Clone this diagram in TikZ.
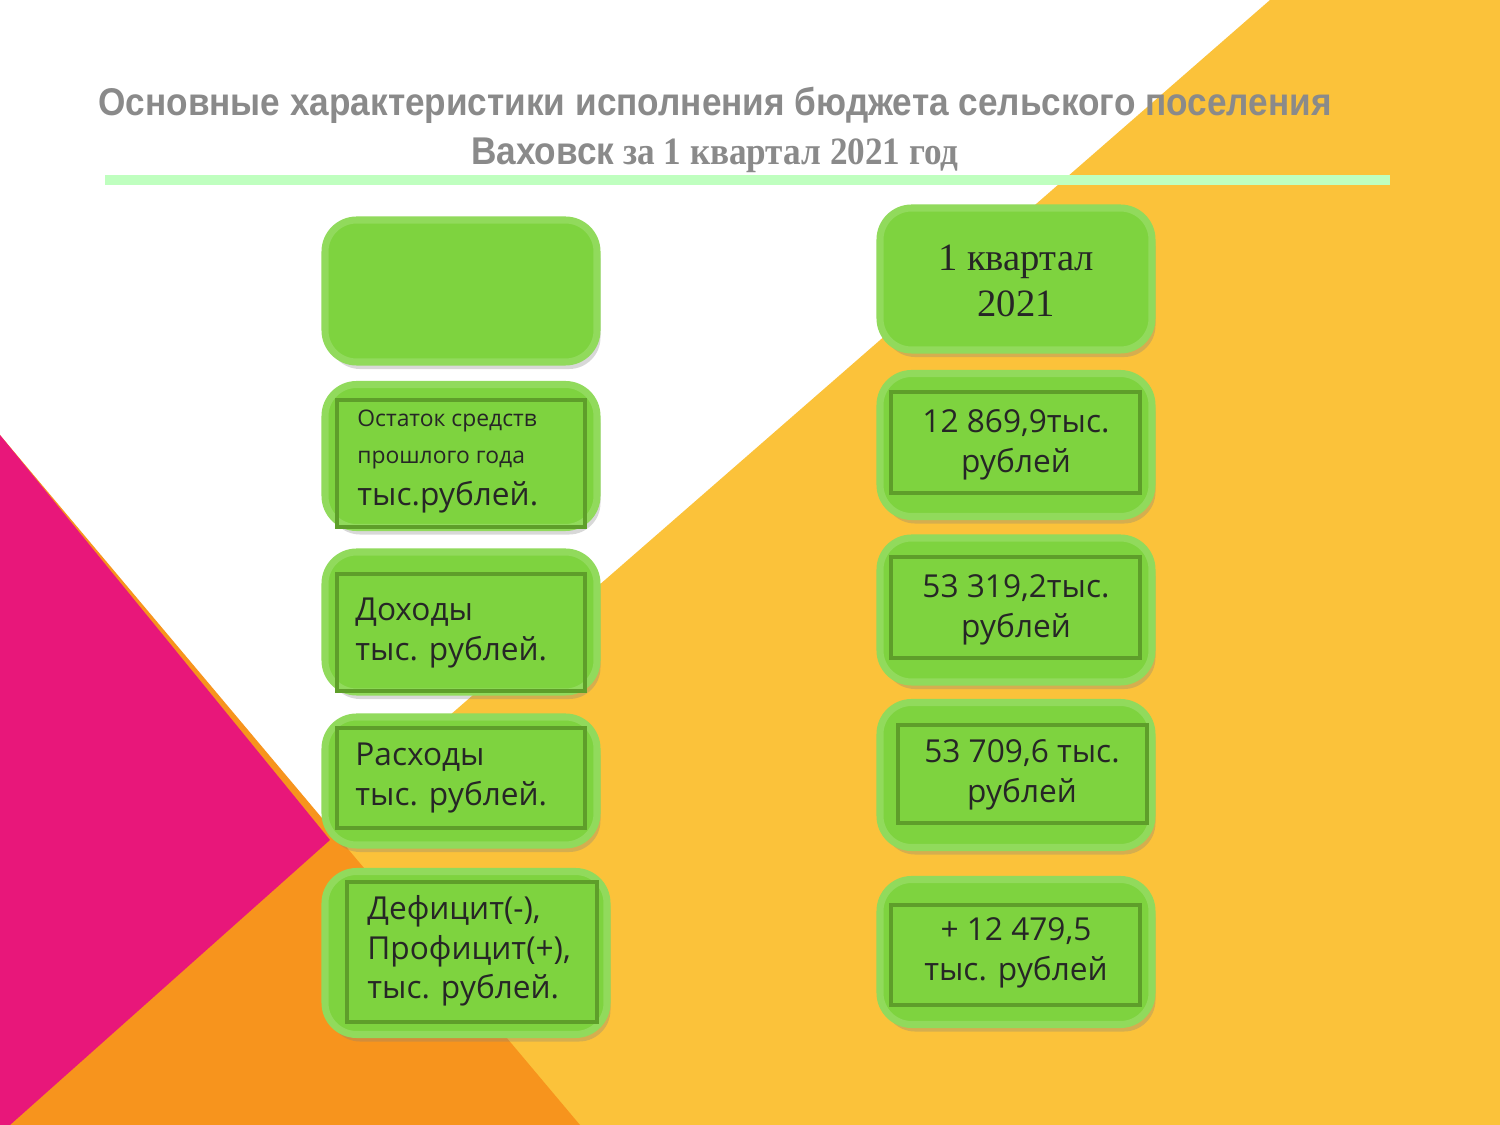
\documentclass[tikz,border=0pt]{standalone}
\usepackage{fontspec}
\setmainfont{Liberation Serif}
\newfontfamily\boxf{Open Sans}
\newfontfamily\titf{Liberation Sans}
\usetikzlibrary{shadows}
\definecolor{gfill}{HTML}{7ED33F}
\definecolor{gline}{HTML}{5E9E2A}
\definecolor{ylw}{HTML}{FBC23A}
\definecolor{org}{HTML}{F7941D}
\definecolor{pnk}{HTML}{E8177A}
\definecolor{ttl}{HTML}{8A8A8A}
\tikzset{
 gbox/.style={fill=gfill,rounded corners=9pt,draw=gfill!85!white,line width=2pt,drop shadow={shadow xshift=1pt,shadow yshift=-2pt,opacity=0.3}},
 inbox/.style={draw=gline,line width=1.3pt},
 btxt/.style={font=\boxf\fontsize{9}{11.3}\selectfont,align=center,text=black!85},
 ltxt/.style={font=\boxf\fontsize{9}{11.3}\selectfont,align=left,text=black!85,anchor=west},
}
\begin{document}
\begin{tikzpicture}[x=1cm,y=1cm]
\useasboundingbox (0,0) rectangle (15,11.25);
\fill[white] (0,0) rectangle (15,11.25);
\fill[ylw] (12.7,11.25) -- (15,11.25) -- (15,0) -- (-0.2,0) -- cycle;
\fill[org] (0,6.9) -- (5.8,0) -- (0,0) -- cycle;
\fill[pnk] (0,6.9) -- (3.3,2.85) -- (0.1,0) -- (0,0) -- cycle;
% title
\node[font=\titf\bfseries\fontsize{11}{14}\selectfont,text=ttl,xscale=0.91] (t1) at (7.15,10.2) {Основные характеристики исполнения бюджета сельского поселения};
\node[font=\fontsize{11}{14}\selectfont\bfseries,text=ttl,xscale=0.91] (t2) at (7.15,9.7) {{\titf Ваховск} за 1 квартал 2021 год};
\draw[line width=3pt,green!25!white] (1.05,9.45) -- (13.9,9.45);
% left column
\node[gbox,minimum width=2.72cm,minimum height=1.42cm] (h1) at (4.61,8.34) {};
\node[gbox,minimum width=2.72cm,minimum height=1.43cm] (l1) at (4.61,6.69) {};
\draw[inbox] (3.37,5.98) rectangle (5.85,7.25);
\node[ltxt,font=\boxf\fontsize{6.5}{11.3}\selectfont] (l1a) at (3.45,7.04) {Остаток средств};
\node[ltxt,font=\boxf\fontsize{6.5}{11.3}\selectfont] (l1b) at (3.45,6.65) {прошлого года};
\node[ltxt] (l1c) at (3.45,6.28) {тыс.рублей.};
\node[gbox,minimum width=2.72cm,minimum height=1.40cm] (l2) at (4.61,5.03) {};
\draw[inbox] (3.37,4.34) rectangle (5.85,5.51);
\node[ltxt] (l2t) at (3.43,4.92) {Доходы\\тыс. рублей.};
\node[gbox,minimum width=2.72cm,minimum height=1.28cm] (l3) at (4.61,3.44) {};
\draw[inbox] (3.37,2.97) rectangle (5.85,3.97);
\node[ltxt] (l3t) at (3.43,3.47) {Расходы\\тыс. рублей.};
\node[gbox,minimum width=2.82cm,minimum height=1.63cm] (l4) at (4.66,1.72) {};
\draw[inbox] (3.47,1.03) rectangle (5.97,2.43);
\node[ltxt] (l4t) at (3.55,1.74) {Дефицит(-),\\Профицит(+),\\тыс. рублей.};
% right column
\node[gbox,minimum width=2.72cm,minimum height=1.42cm] (h2) at (10.16,8.46) {};
\node[font=\fontsize{11}{13}\selectfont,align=center,text=black!85] (h2t) at (10.16,8.44) {1 квартал\\2021};
\node[gbox,minimum width=2.72cm,minimum height=1.43cm] (r1) at (10.16,6.8) {};
\draw[inbox] (8.91,6.32) rectangle (11.4,7.33);
\node[btxt] (r1t) at (10.16,6.8) {12 869,9тыс.\\рублей};
\node[gbox,minimum width=2.72cm,minimum height=1.44cm] (r2) at (10.16,5.15) {};
\draw[inbox] (8.91,4.67) rectangle (11.4,5.68);
\node[btxt] (r2t) at (10.16,5.15) {53 319,2тыс.\\рублей};
\node[gbox,minimum width=2.72cm,minimum height=1.45cm] (r3) at (10.16,3.5) {};
\draw[inbox] (8.98,3.02) rectangle (11.47,4.0);
\node[btxt] (r3t) at (10.22,3.5) {53 709,6 тыс.\\рублей};
\node[gbox,minimum width=2.72cm,minimum height=1.45cm] (r4) at (10.16,1.73) {};
\draw[inbox] (8.91,1.2) rectangle (11.4,2.2);
\node[btxt] (r4t) at (10.16,1.72) {+ 12 479,5\\тыс. рублей};
\end{tikzpicture}
\end{document}
